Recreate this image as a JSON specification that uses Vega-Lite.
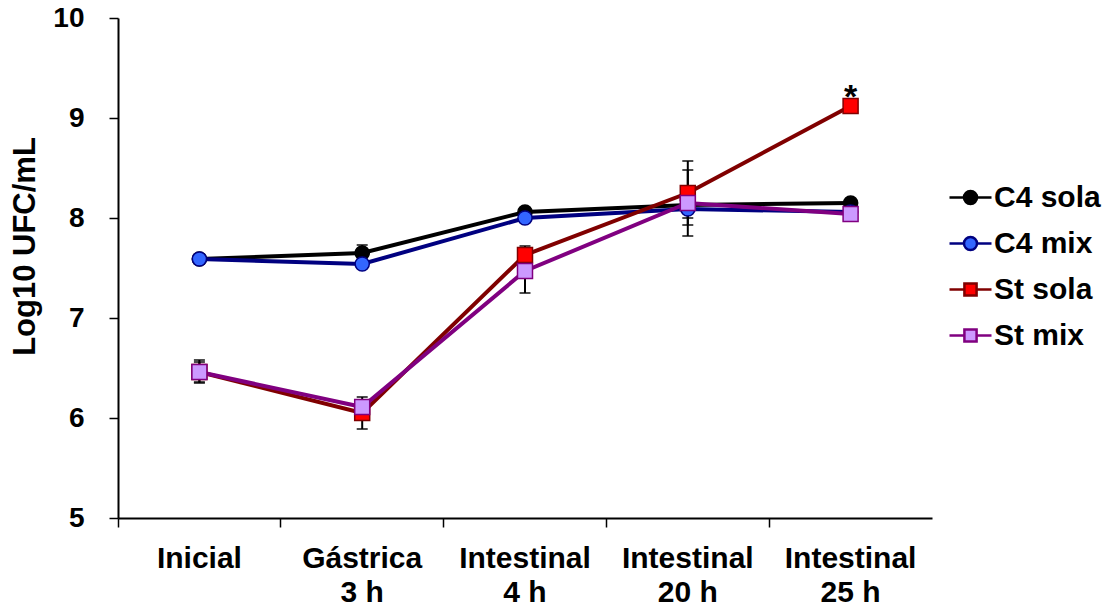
{
  "$schema": "https://vega.github.io/schema/vega-lite/v6.json",
  "width": 814,
  "height": 500,
  "autosize": "none",
  "padding": {"left": 118, "top": 18, "right": 177, "bottom": 97},
  "background": "white",
  "config": {
    "view": {"stroke": null},
    "font": "Liberation Sans",
    "legend": {
      "symbolFillColor": "white",
      "symbolSize": 1764,
      "symbolOpacity": 1,
      "symbolStrokeWidth": 2.5,
      "labelFont": "Liberation Sans",
      "labelFontSize": 30,
      "labelFontWeight": "bold",
      "labelColor": "black",
      "labelOffset": 1,
      "rowPadding": 8,
      "labelLimit": 300,
      "padding": 0
    }
  },
  "data": {
    "values": [
      {"series": "C4 sola", "cat": "Inicial", "t": 0, "y": 7.59, "lo": 7.54, "hi": 7.64},
      {"series": "C4 sola", "cat": "Gástrica|3 h", "t": 1, "y": 7.65, "lo": 7.58, "hi": 7.73},
      {"series": "C4 sola", "cat": "Intestinal|4 h", "t": 2, "y": 8.06, "lo": 8.03, "hi": 8.09},
      {"series": "C4 sola", "cat": "Intestinal|20 h", "t": 3, "y": 8.13, "lo": 8.08, "hi": 8.18},
      {"series": "C4 sola", "cat": "Intestinal|25 h", "t": 4, "y": 8.15, "lo": 8.12, "hi": 8.18},
      {"series": "C4 mix", "cat": "Inicial", "t": 0, "y": 7.59, "lo": 7.55, "hi": 7.63},
      {"series": "C4 mix", "cat": "Gástrica|3 h", "t": 1, "y": 7.54, "lo": 7.51, "hi": 7.57},
      {"series": "C4 mix", "cat": "Intestinal|4 h", "t": 2, "y": 8.00, "lo": 7.97, "hi": 8.03},
      {"series": "C4 mix", "cat": "Intestinal|20 h", "t": 3, "y": 8.09, "lo": 8.00, "hi": 8.18},
      {"series": "C4 mix", "cat": "Intestinal|25 h", "t": 4, "y": 8.06, "lo": 8.03, "hi": 8.09},
      {"series": "St sola", "cat": "Inicial", "t": 0, "y": 6.46, "lo": 6.36, "hi": 6.56},
      {"series": "St sola", "cat": "Gástrica|3 h", "t": 1, "y": 6.05, "lo": 5.89, "hi": 6.21},
      {"series": "St sola", "cat": "Intestinal|4 h", "t": 2, "y": 7.63, "lo": 7.55, "hi": 7.72},
      {"series": "St sola", "cat": "Intestinal|20 h", "t": 3, "y": 8.25, "lo": 7.93, "hi": 8.57},
      {"series": "St sola", "cat": "Intestinal|25 h", "t": 4, "y": 9.12, "lo": 9.09, "hi": 9.15},
      {"series": "St mix", "cat": "Inicial", "t": 0, "y": 6.46, "lo": 6.35, "hi": 6.58},
      {"series": "St mix", "cat": "Gástrica|3 h", "t": 1, "y": 6.11, "lo": 6.04, "hi": 6.18},
      {"series": "St mix", "cat": "Intestinal|4 h", "t": 2, "y": 7.47, "lo": 7.25, "hi": 7.69},
      {"series": "St mix", "cat": "Intestinal|20 h", "t": 3, "y": 8.15, "lo": 7.82, "hi": 8.48},
      {"series": "St mix", "cat": "Intestinal|25 h", "t": 4, "y": 8.04, "lo": 8.01, "hi": 8.07}
    ]
  },
  "encoding": {
    "x": {
      "field": "cat",
      "type": "nominal",
      "scale": {
        "type": "band",
        "domain": ["Inicial", "Gástrica|3 h", "Intestinal|4 h", "Intestinal|20 h", "Intestinal|25 h"],
        "paddingInner": 0,
        "paddingOuter": 0
      },
      "axis": {
        "title": null,
        "bandPosition": 0,
        "labelExpr": "split(datum.label, '|')",
        "labelAngle": 0,
        "labelFont": "Liberation Sans",
        "labelFontSize": 30,
        "labelFontWeight": "bold",
        "labelColor": "black",
        "labelPadding": 16,
        "labelLineHeight": 34,
        "labelOverlap": false,
        "labelBound": false,
        "labelFlush": false,
        "domainColor": "black",
        "domainWidth": 2,
        "tickColor": "black",
        "tickWidth": 1.5,
        "tickSize": 9,
        "grid": false
      }
    }
  },
  "layer": [
    {
      "mark": {"type": "point", "filled": true, "opacity": 0, "strokeWidth": 2.5},
      "encoding": {
        "y": {
          "field": "y",
          "type": "quantitative",
          "title": "Log10 UFC/mL",
          "scale": {"domain": [5, 10], "nice": false, "zero": false},
          "axis": {
            "values": [5, 6, 7, 8, 9, 10],
            "format": "d",
            "grid": false,
            "title": "Log10 UFC/mL",
            "titleFont": "Liberation Sans",
            "titleFontSize": 31,
            "titleFontWeight": "bold",
            "titleColor": "black",
            "titleAngle": -90,
            "titleAlign": "center",
            "titleBaseline": "alphabetic",
            "titleX": -84,
            "titleY": 228,
            "labelFont": "Liberation Sans",
            "labelFontSize": 28,
            "labelFontWeight": "bold",
            "labelColor": "black",
            "labelPadding": 25,
            "domainColor": "black",
            "domainWidth": 2,
            "tickColor": "black",
            "tickWidth": 1.5,
            "tickSize": 9
          }
        },
        "fill": {
          "field": "series",
          "type": "nominal",
          "scale": {"domain": ["C4 sola", "C4 mix", "St sola", "St mix"], "range": ["#000000", "#3366FF", "#FF0000", "#CC99FF"]},
          "legend": {"title": null, "orient": "none", "legendX": 830, "legendY": 157}
        },
        "stroke": {
          "field": "series",
          "type": "nominal",
          "scale": {"domain": ["C4 sola", "C4 mix", "St sola", "St mix"], "range": ["#000000", "#000080", "#800000", "#800080"]},
          "legend": {"title": null, "orient": "none", "legendX": 830, "legendY": 157}
        },
        "shape": {
          "field": "series",
          "type": "nominal",
          "scale": {
            "domain": ["C4 sola", "C4 mix", "St sola", "St mix"],
            "range": [
              "M-1,0H-0.31M0.31,0H1M-0.31,0A0.31,0.31 0 1,0 0.31,0A0.31,0.31 0 1,0 -0.31,0Z",
              "M-1,0H-0.31M0.31,0H1M-0.31,0A0.31,0.31 0 1,0 0.31,0A0.31,0.31 0 1,0 -0.31,0Z",
              "M-1,0H-0.29M0.29,0H1M-0.29,-0.29H0.29V0.29H-0.29Z",
              "M-1,0H-0.29M0.29,0H1M-0.29,-0.29H0.29V0.29H-0.29Z"
            ]
          },
          "legend": {"title": null, "orient": "none", "legendX": 830, "legendY": 157}
        }
      }
    },
    {
      "mark": {"type": "errorbar", "color": "black", "thickness": 2, "rule": {"strokeWidth": 2}, "ticks": {"size": 11, "thickness": 2, "strokeWidth": 2, "color": "black"}},
      "encoding": {
        "y": {"field": "lo", "type": "quantitative", "title": "Log10 UFC/mL"},
        "y2": {"field": "hi"}
      }
    },
    {
      "mark": {"type": "line", "strokeWidth": 4},
      "encoding": {
        "y": {"field": "y", "type": "quantitative", "title": "Log10 UFC/mL"},
        "stroke": {"field": "series", "type": "nominal", "legend": null},
        "order": {"field": "t", "type": "quantitative"}
      }
    },
    {
      "transform": [{"filter": {"field": "series", "oneOf": ["C4 sola", "C4 mix"]}}],
      "mark": {"type": "point", "shape": "circle", "filled": true, "size": 200, "strokeWidth": 1.5, "opacity": 1},
      "encoding": {
        "y": {"field": "y", "type": "quantitative", "title": "Log10 UFC/mL"},
        "fill": {"field": "series", "type": "nominal", "legend": null},
        "stroke": {"field": "series", "type": "nominal", "legend": null}
      }
    },
    {
      "transform": [{"filter": {"field": "series", "oneOf": ["St sola", "St mix"]}}],
      "mark": {"type": "point", "shape": "square", "filled": true, "size": 225, "strokeWidth": 1.5, "opacity": 1},
      "encoding": {
        "y": {"field": "y", "type": "quantitative", "title": "Log10 UFC/mL"},
        "fill": {"field": "series", "type": "nominal", "legend": null},
        "stroke": {"field": "series", "type": "nominal", "legend": null}
      }
    },
    {
      "data": {"values": [{"cat": "Intestinal|25 h", "y": 9.12, "txt": "*"}]},
      "mark": {"type": "text", "font": "Liberation Sans", "fontSize": 34, "fontWeight": "bold", "color": "black", "baseline": "alphabetic", "align": "center", "dy": 2},
      "encoding": {
        "y": {"field": "y", "type": "quantitative", "title": "Log10 UFC/mL"},
        "text": {"field": "txt"}
      }
    }
  ]
}
